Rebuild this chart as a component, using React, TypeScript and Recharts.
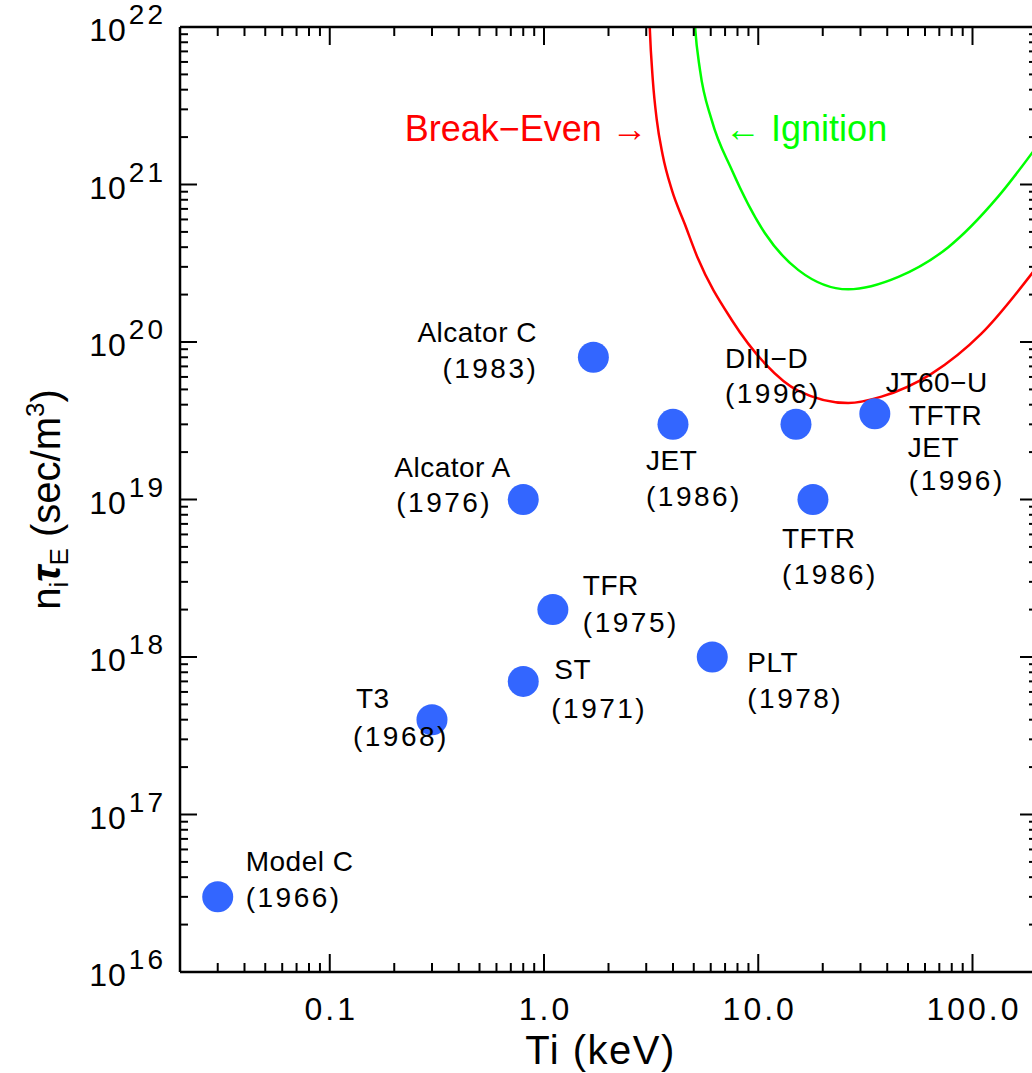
import React from 'react';
import { ComposedChart, XAxis, YAxis, Scatter, Line, ReferenceDot } from 'recharts';

// ---------- data ----------
const machineLabels: string[][] = [
  ['Model C', '(1966)'],
  ['T3', '(1968)'],
  ['ST', '(1971)'],
  ['TFR', '(1975)'],
  ['Alcator A', '(1976)'],
  ['Alcator C', '(1983)'],
  ['JET', '(1986)'],
  ['PLT', '(1978)'],
  ['DIII\u2212D', '(1996)'],
  ['TFTR', '(1986)'],
  ['JT60\u2212U', 'TFTR', 'JET', '(1996)'],
];
const ionTempKeV = [0.03, 0.3, 0.8, 1.1, 0.8, 1.7, 4.0, 6.1, 15, 18, 35];
const tripleProduct = [3e16, 4e17, 7e17, 2e18, 1e19, 8e19, 3e19, 1e18, 3e19, 1e19, 3.5e19];

const breakEvenTi = [3.04, 3.115, 3.22, 3.36, 3.58, 3.95, 4.54, 5.22, 7.52, 10.75, 15.4, 26.3, 37.6, 64.5, 110, 200];
const breakEvenNT = [3e22, 1e22, 4.61e21, 2.57e21, 1.54e21, 9.23e20, 5.61e20, 3.41e20, 1.38e20, 7.3e19, 4.9e19, 4.1e19, 4.5e19, 6.3e19, 1.13e20, 3.0e20];

const ignitionTi = [4.9, 5.07, 5.35, 6.06, 7.52, 10.75, 15.4, 26.3, 45.1, 77.1, 132, 200];
const ignitionNT = [2.3e22, 1e22, 5.3e21, 2.57e21, 1.24e21, 4.9e20, 2.86e20, 2.16e20, 2.59e20, 4.0e20, 8.4e20, 1.75e21];

const xMajorTicks = [0.1, 1, 10, 100];
const xTickLabels = ['0.1', '1.0', '10.0', '100.0'];
const yMajorExponents = [16, 17, 18, 19, 20, 21, 22];
const yTickExponentLabels = ['16', '17', '18', '19', '20', '21', '22'];

const breakEvenAnchor = { x: 3.05, y: 2.3e21 };
const ignitionAnchor = { x: 7.0, y: 2.3e21 };

// ---------- layout / style (not data) ----------
const labelOffsets: number[][][] = [
  [[28, -36], [28, 0]],
  [[-76, -22], [-79, 16]],
  [[31, -12], [28, 27]],
  [[30, -25], [30, 12]],
  [[-129, -33], [-127, 2]],
  [[-176, -25], [-151, 11]],
  [[-27, 36], [-27, 72]],
  [[35, 5], [35, 41]],
  [[-71, -66], [-71, -31]],
  [[-31, 38], [-31, 74]],
  [[11, -32], [34, 1], [33, 33], [34, 66]],
];

const FONT = '"Liberation Sans", Arial, sans-serif';
const DOT_COLOR = '#3366ff';
const RED = '#ff0000';
const GREEN = '#00ff00';

// ---------- derived tables ----------
const machineData = ionTempKeV.map((t, i) => ({ x: t, y: tripleProduct[i], idx: i }));
const breakEvenData = breakEvenTi.map((t, i) => ({ x: t, y: breakEvenNT[i] }));
const ignitionData = ignitionTi.map((t, i) => ({ x: t, y: ignitionNT[i] }));

const xTicks: number[] = [];
for (let d = -2; d <= 2; d++) {
  for (let m = 1; m <= 9; m++) {
    const v = Number((m * Math.pow(10, d)).toPrecision(6));
    if (v > 0.02 && v < 200) xTicks.push(v);
  }
}
const yTicks: number[] = [];
for (let e = 16; e <= 22; e++) {
  for (let m = 1; m <= 9; m++) {
    if (e === 22 && m > 1) break;
    yTicks.push(Number((m * Math.pow(10, e)).toPrecision(6)));
  }
}

const isMajor = (v: number) => {
  const l = Math.log10(v);
  return Math.abs(l - Math.round(l)) < 1e-6;
};

// ---------- tick renderers ----------
const BottomTick = (props: any) => {
  const { x, y, payload } = props;
  const v = payload.value;
  const major = isMajor(v);
  const len = major ? 18 : 9;
  const mi = xMajorTicks.findIndex((t) => Math.abs(Math.log10(t) - Math.log10(v)) < 1e-6);
  return (
    <g>
      <line x1={x} x2={x} y1={y} y2={y - len} stroke="#000" strokeWidth={2} />
      {mi >= 0 && (
        <text x={x + 1.5} y={y + 48} textAnchor="middle" fontSize={32} letterSpacing={3} fill="#000" fontFamily={FONT}>
          {xTickLabels[mi]}
        </text>
      )}
    </g>
  );
};

const TopTick = (props: any) => {
  const { x, y, payload } = props;
  const len = isMajor(payload.value) ? 18 : 9;
  return <line x1={x} x2={x} y1={y} y2={y + len} stroke="#000" strokeWidth={2} />;
};

const LeftTick = (props: any) => {
  const { x, y, payload } = props;
  const v = payload.value;
  const major = isMajor(v);
  const len = major ? 17 : 8;
  const ei = yMajorExponents.indexOf(Math.round(Math.log10(v)));
  return (
    <g>
      <line x1={x} x2={x + len} y1={y} y2={y} stroke="#000" strokeWidth={2} />
      {major && ei >= 0 && (
        <text x={x - 14} y={y + 14} textAnchor="end" fill="#000" fontFamily={FONT}>
          <tspan fontSize={32} letterSpacing={1}>10</tspan>
          <tspan fontSize={28} dy={-17} dx={2} letterSpacing={3}>{yTickExponentLabels[ei]}</tspan>
        </text>
      )}
    </g>
  );
};

const RightTick = (props: any) => {
  const { x, y, payload } = props;
  const len = isMajor(payload.value) ? 17 : 8;
  return <line x1={x} x2={x - len} y1={y} y2={y} stroke="#000" strokeWidth={2} />;
};

// ---------- marks ----------
const MachineDot = (props: any) => {
  const { cx, cy, payload } = props;
  if (cx == null || cy == null) return <g />;
  const i = payload.idx;
  const lines = machineLabels[i];
  const offs = labelOffsets[i];
  return (
    <g>
      <circle cx={cx} cy={cy} r={15.5} fill={DOT_COLOR} />
      {lines.map((t, k) => (
        <text
          key={k}
          x={cx + offs[k][0]}
          y={cy + offs[k][1] + 10}
          fontSize={28}
          letterSpacing={t.startsWith('(') ? 2.5 : 0.5}
          fill="#000"
          fontFamily={FONT}
        >
          {t}
        </text>
      ))}
    </g>
  );
};

const EmptyShape = () => <g />;

const XTitle = (props: any) => {
  const vb = props.viewBox || { x: 180, y: 972, width: 857, height: 101 };
  return (
    <text x={vb.x + vb.width / 2 - 8} y={vb.y + 92} textAnchor="middle" fontSize={40} letterSpacing={1.5} fill="#000" fontFamily={FONT}>
      Ti (keV)
    </text>
  );
};

const YTitle = (props: any) => {
  const vb = props.viewBox || { x: 0, y: 27, width: 180, height: 945 };
  const cx = 60;
  const cy = vb.y + vb.height / 2;
  return (
    <text x={cx} y={cy} transform={`rotate(-90, ${cx}, ${cy})`} textAnchor="middle" fontSize={40} fill="#000" fontFamily={FONT}>
      <tspan>n</tspan>
      <tspan fontSize={26} dy={8}>i</tspan>
      <tspan fontStyle="italic" fontWeight="bold" dy={-8}>τ</tspan>
      <tspan fontSize={26} dy={8}>E</tspan>
      <tspan dy={-8}>{' (sec/m'}</tspan>
      <tspan fontSize={26} dy={-16}>3</tspan>
      <tspan dy={16}>)</tspan>
    </text>
  );
};

const BreakEvenText = (props: any) => (
  <text x={props.cx} y={props.cy + 13} textAnchor="end" fontSize={36} fill={RED} fontFamily={FONT}>
    {'Break\u2212Even \u2192'}
  </text>
);
const IgnitionText = (props: any) => (
  <text x={props.cx} y={props.cy + 13} textAnchor="start" fontSize={36} fill={GREEN} fontFamily={FONT}>
    {'\u2190 Ignition'}
  </text>
);

const axisStyle = { stroke: '#000', strokeWidth: 2.5 };

export default function App() {
  return (
    <div style={{ position: 'absolute', left: 0, top: 0, width: 1032, height: 1073, overflow: 'hidden', background: '#fff' }}>
      <ComposedChart width={1040} height={1073} margin={{ top: 26, right: 2, bottom: 0, left: 0 }} style={{ fontFamily: FONT }}>
        <XAxis
          xAxisId="b"
          dataKey="x"
          type="number"
          scale="log"
          domain={[0.02, 200]}
          allowDataOverflow
          ticks={xTicks}
          interval={0}
          tick={<BottomTick />}
          tickLine={false}
          tickSize={0}
          tickMargin={0}
          height={101}
          axisLine={axisStyle}
          label={{ content: <XTitle /> }}
        />
        <XAxis
          xAxisId="t"
          orientation="top"
          dataKey="x"
          type="number"
          scale="log"
          domain={[0.02, 200]}
          allowDataOverflow
          ticks={xTicks}
          interval={0}
          tick={<TopTick />}
          tickLine={false}
          tickSize={0}
          tickMargin={0}
          height={1}
          axisLine={axisStyle}
        />
        <YAxis
          yAxisId="l"
          dataKey="y"
          type="number"
          scale="log"
          domain={[1e16, 1e22]}
          allowDataOverflow
          ticks={yTicks}
          interval={0}
          tick={<LeftTick />}
          tickLine={false}
          tickSize={0}
          tickMargin={0}
          width={180}
          axisLine={axisStyle}
          label={{ content: <YTitle /> }}
        />
        <YAxis
          yAxisId="r"
          orientation="right"
          dataKey="y"
          type="number"
          scale="log"
          domain={[1e16, 1e22]}
          allowDataOverflow
          ticks={yTicks}
          interval={0}
          tick={<RightTick />}
          tickLine={false}
          tickSize={0}
          tickMargin={0}
          width={1}
          axisLine={axisStyle}
        />
        <Line
          xAxisId="b"
          yAxisId="l"
          data={breakEvenData}
          dataKey="y"
          type="monotone"
          stroke={RED}
          strokeWidth={2.5}
          dot={false}
          activeDot={false}
          isAnimationActive={false}
        />
        <Line
          xAxisId="b"
          yAxisId="l"
          data={ignitionData}
          dataKey="y"
          type="monotone"
          stroke={GREEN}
          strokeWidth={2.5}
          dot={false}
          activeDot={false}
          isAnimationActive={false}
        />
        <Scatter
          xAxisId="t"
          yAxisId="r"
          data={machineData}
          dataKey="y"
          shape={<EmptyShape />}
          isAnimationActive={false}
        />
        <Scatter
          xAxisId="b"
          yAxisId="l"
          data={machineData}
          dataKey="y"
          shape={<MachineDot />}
          isAnimationActive={false}
        />
        <ReferenceDot xAxisId="b" yAxisId="l" x={breakEvenAnchor.x} y={breakEvenAnchor.y} r={0} shape={<BreakEvenText />} />
        <ReferenceDot xAxisId="b" yAxisId="l" x={ignitionAnchor.x} y={ignitionAnchor.y} r={0} shape={<IgnitionText />} />
      </ComposedChart>
    </div>
  );
}
